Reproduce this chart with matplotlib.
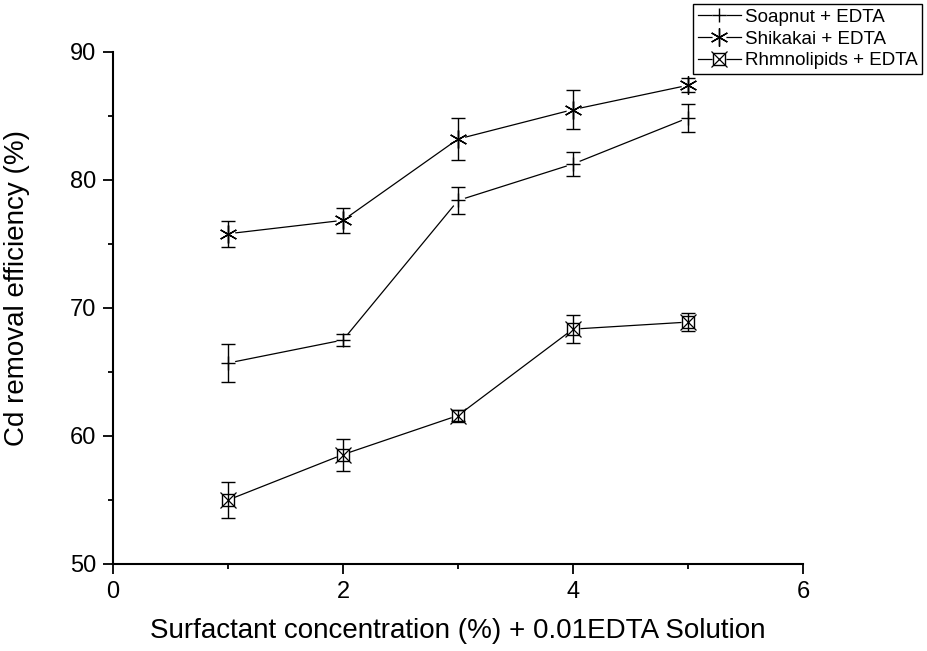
import matplotlib
matplotlib.use("Agg")
import matplotlib.pyplot as plt
from matplotlib.lines import Line2D
from matplotlib.legend_handler import HandlerTuple

plt.rcParams["font.family"] = ["Liberation Sans", "DejaVu Sans"]

# Data
conc = [1, 2, 3, 4, 5]
soapnut = [65.7, 67.5, 78.4, 81.25, 84.85]
soapnut_err = [1.45, 0.5, 1.05, 0.9, 1.1]
shikakai = [75.8, 76.85, 83.2, 85.5, 87.4]
shikakai_err = [1.0, 1.0, 1.65, 1.5, 0.55]
rhamno = [55.0, 58.55, 61.6, 68.35, 68.9]
rhamno_err = [1.4, 1.25, 0.4, 1.1, 0.7]

labels = ["Soapnut + EDTA", "Shikakai + EDTA", "Rhmnolipids + EDTA"]
star6 = (6, 2, 0)

fig = plt.figure(figsize=(9.28, 6.51), dpi=100)
ax = fig.add_axes([113 / 928, 1 - 564 / 651, 690 / 928, 512 / 651])

line_kw = dict(color="black", lw=0.9, zorder=1)
gap_kw = dict(ls="none", marker="o", ms=10, mfc="white", mec="white", mew=0, zorder=2)
err_kw = dict(fmt="none", ecolor="black", elinewidth=1.0, capsize=5, capthick=1.0, zorder=3)

series = [
    (soapnut, soapnut_err, [dict(marker="+", ms=10, mew=1.0)]),
    (shikakai, shikakai_err, [dict(marker=star6, ms=13, mew=1.0)]),
    (rhamno, rhamno_err, [dict(marker="s", ms=8.5, mew=1.0, mfc="none"),
                          dict(marker="x", ms=11, mew=0.9)]),
]

handles = []
for vals, errs, markers in series:
    ax.plot(conc, vals, **line_kw)
    ax.plot(conc, vals, **gap_kw)
    ax.errorbar(conc, vals, yerr=errs, **err_kw)
    # legend handle: line, white gap, then the marker(s) on top
    parts = [Line2D([], [], **line_kw), Line2D([], [], **gap_kw)]
    for mk in markers:
        ax.plot(conc, vals, ls="none", color="black", zorder=4, clip_on=False, **mk)
        parts.append(Line2D([], [], ls="none", color="black", **mk))
    handles.append(tuple(parts))

ax.set_xlim(0, 6)
ax.set_ylim(50, 90)
ax.set_xticks([0, 2, 4, 6])
ax.set_xticks([1, 3, 5], minor=True)
ax.set_yticks([50, 60, 70, 80, 90])
ax.set_yticks([55, 65, 75, 85], minor=True)

ax.spines["top"].set_visible(False)
ax.spines["right"].set_visible(False)
for side in ["left", "bottom"]:
    ax.spines[side].set_linewidth(1.5)

ax.tick_params(which="major", direction="out", length=7, width=1.3, pad=5, labelsize=17)
ax.tick_params(which="minor", direction="out", length=3.5, width=1.3)

ax.set_xlabel("Surfactant concentration (%) + 0.01EDTA Solution", fontsize=20)
ax.set_ylabel("Cd removal efficiency (%)", fontsize=20)
ax.xaxis.set_label_coords(0.5, -0.105)
ax.yaxis.set_label_coords(-0.12, 0.54)

leg = fig.legend(handles, labels, handler_map={tuple: HandlerTuple(ndivide=1, pad=0)},
                 loc="upper right", bbox_to_anchor=(922 / 928, 1 - 4 / 651),
                 fontsize=13.5, frameon=True, fancybox=False, framealpha=1,
                 edgecolor="black", borderpad=0.25, labelspacing=0.25,
                 handlelength=2.3, handletextpad=0.2, borderaxespad=0)
leg.get_frame().set_linewidth(1.0)

fig.savefig("out.png", dpi=100)
